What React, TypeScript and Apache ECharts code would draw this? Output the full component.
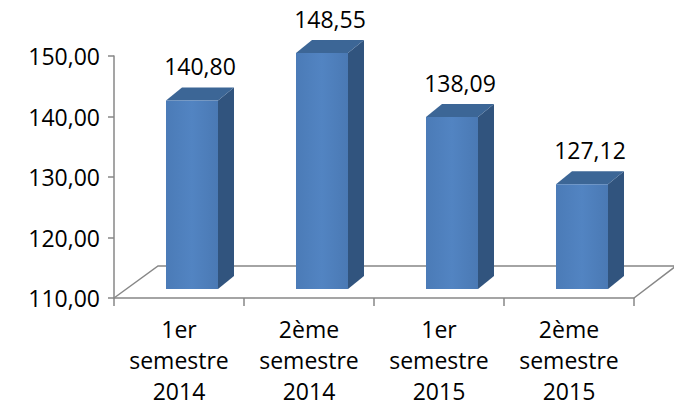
import React, { useEffect, useRef } from "react";
import * as echarts from "echarts";

const categories = [
  "1er\nsemestre\n2014",
  "2ème\nsemestre\n2014",
  "1er\nsemestre\n2015",
  "2ème\nsemestre\n2015",
];
const values = [140.8, 148.55, 138.09, 127.12];
const yMin = 110;
const yMax = 150;
const yInterval = 10;

const fmt = (v: number) => v.toFixed(2).replace(".", ",");
const FONT = "'Open Sans', 'Noto Sans', sans-serif";

export default function App() {
  const ref = useRef<HTMLDivElement>(null);
  useEffect(() => {
    if (!ref.current) return;
    const chart = echarts.init(ref.current, undefined, { renderer: "svg" });
    const depthX = 16;
    const depthY = -13;
    chart.setOption({
      animation: false,
      backgroundColor: "#ffffff",
      grid: { left: 114, top: 56, right: 40, bottom: 113, containLabel: false },
      xAxis: {
        type: "category",
        data: categories,
        boundaryGap: true,
        axisLine: { show: true, lineStyle: { color: "#878787", width: 1.5 } },
        axisTick: { show: true, alignWithLabel: false, length: 8, lineStyle: { color: "#878787", width: 1.5 } },
        axisLabel: {
          interval: 0,
          margin: 15,
          fontSize: 23,
          lineHeight: 31,
          fontFamily: FONT,
          color: "#000000",
        },
        splitLine: { show: false },
      },
      yAxis: {
        type: "value",
        min: yMin,
        max: yMax,
        interval: yInterval,
        axisLine: { show: true, lineStyle: { color: "#878787", width: 1.5 } },
        axisTick: { show: true, length: 6, lineStyle: { color: "#878787", width: 1.5 } },
        axisLabel: {
          margin: 14,
          fontSize: 23,
          fontFamily: FONT,
          color: "#000000",
          formatter: (v: number) => fmt(v),
        },
        splitLine: { show: false },
      },
      series: [
        {
          type: "custom",
          z: 1,
          data: [[0, yMin]],
          renderItem: (params: any, api: any) => {
            const cs = params.coordSys;
            const x0 = cs.x;
            const x1 = cs.x + cs.width;
            const yb = cs.y + cs.height;
            const dy = -32;
            return {
              type: "polyline",
              shape: {
                points: [
                  [x0, yb],
                  [x0 + 44, yb + dy],
                  [x1 + 42, yb + dy],
                  [x1, yb],
                ],
              },
              style: { stroke: "#878787", lineWidth: 1.5, fill: null },
            };
          },
        },
        {
          type: "custom",
          z: 2,
          data: values.map((v, i) => [i, v]),
          renderItem: (params: any, api: any) => {
            const idx = api.value(0);
            const v = api.value(1);
            const top = api.coord([idx, v]);
            const base = api.coord([idx, yMin]);
            const bw = api.size([1, 0])[0] * 0.4;
            const cx = top[0] + 13;
            const yb = base[1] - 9;
            const yt = yb - (base[1] - top[1]) * 1.012;
            const x0 = cx - bw / 2;
            const x1 = cx + bw / 2;
            return {
              type: "group",
              children: [
                {
                  type: "polygon",
                  shape: { points: [[x1, yt], [x1 + depthX, yt + depthY], [x1 + depthX, yb + depthY], [x1, yb]] },
                  style: { fill: "#31547E" },
                },
                {
                  type: "polygon",
                  shape: { points: [[x0, yt], [x0 + depthX, yt + depthY], [x1 + depthX, yt + depthY], [x1, yt]] },
                  style: { fill: "#3C6696" },
                },
                {
                  type: "polygon",
                  shape: { points: [[x0, yt], [x1, yt], [x1, yb], [x0, yb]] },
                  style: {
                    fill: new echarts.graphic.LinearGradient(0, 0, 1, 0, [
                      { offset: 0, color: "#4B7BB7" },
                      { offset: 0.5, color: "#5284C2" },
                      { offset: 1, color: "#4A79B4" },
                    ]),
                  },
                },
                {
                  type: "text",
                  x: cx + 8,
                  y: yt - 34,
                  style: {
                    text: fmt(v),
                    fill: "#000000",
                    fontSize: 23,
                    fontFamily: FONT,
                    align: "center",
                    verticalAlign: "middle",
                  },
                },
              ],
            };
          },
        },
      ],
    });
    return () => chart.dispose();
  }, []);
  return (
    <div
      ref={ref}
      style={{ position: "fixed", left: 0, top: 0, width: 674, height: 411 }}
    />
  );
}
